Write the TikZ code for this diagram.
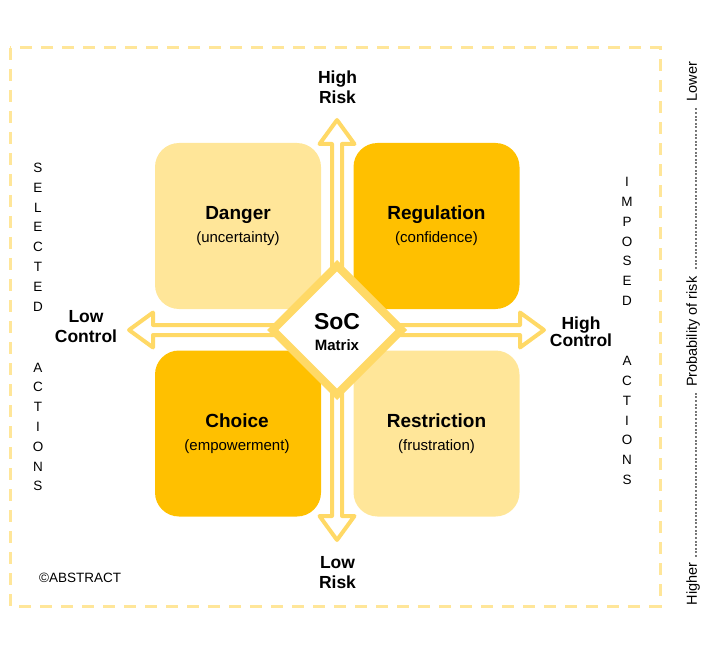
\documentclass[tikz,border=0pt]{standalone}
\usepackage{fontspec}
\setmainfont{Liberation Sans}
\usetikzlibrary{shapes.geometric}
\definecolor{lightY}{HTML}{FFE699}
\definecolor{darkY}{HTML}{FFC000}
\definecolor{arrowY}{HTML}{FFD966}
\definecolor{frameY}{HTML}{FFE699}
\newcommand\fsz[2]{\fontsize{#1}{#2}\selectfont}
\newcommand\dotlead{\leaders\hbox to 3.6pt{\hss.\hss}\hfill}
\begin{document}
\begin{tikzpicture}[x=1pt,y=-1pt,
  quad/.style={rectangle, rounded corners=24pt, draw=none, minimum width=166pt, minimum height=166pt, inner sep=0pt},
  ttl/.style={anchor=base, inner sep=0pt, font=\fsz{19}{22}\bfseries},
  sub/.style={anchor=base, inner sep=0pt, font=\fsz{15}{18}},
  axlbl/.style={align=center, inner sep=0pt, font=\fsz{17.5}{19.5}\bfseries},
  vert/.style={align=center, inner sep=0pt, font=\fsz{13.5}{19.8}},
  blockarrow/.style={draw=arrowY, line width=4pt, fill=white, line join=round}]
\useasboundingbox (0,0) rectangle (713,666);
% dashed frame
\draw[frameY, line width=3pt, dash pattern=on 12pt off 9pt] (10,48) rectangle (660,606);
% quadrants
\node[quad, fill=lightY] (danger) at (238,226) {};
\node[quad, fill=darkY] (regulation) at (436.5,226) {};
\node[quad, fill=darkY] (choice) at (238,433.5) {};
\node[quad, fill=lightY] (restriction) at (436.5,433.5) {};
% block arrows
\draw[blockarrow] (332,330) -- (332,144) -- (319.5,144) -- (337,120) -- (354.5,144) -- (342,144) -- (342,330) -- cycle;
\draw[blockarrow] (332,330) -- (332,516) -- (319.5,516) -- (337,540) -- (354.5,516) -- (342,516) -- (342,330) -- cycle;
\draw[blockarrow] (337,325) -- (153,325) -- (153,312.5) -- (129,330) -- (153,347.5) -- (153,335) -- (337,335) -- cycle;
\draw[blockarrow] (337,325) -- (520,325) -- (520,312.5) -- (544,330) -- (520,347.5) -- (520,335) -- (337,335) -- cycle;
% centre diamond
\node[diamond, draw=arrowY, fill=white, line width=8pt, line join=miter, minimum width=132pt, minimum height=132pt, inner sep=0pt] (soc) at (337,330) {};
\node[anchor=base, inner sep=0pt, font=\fsz{23}{26}\bfseries] (soct) at (337,329) {SoC};
\node[anchor=base, inner sep=0pt, font=\fsz{15}{18}\bfseries] (matrix) at (337,350) {Matrix};
% quadrant texts
\node[ttl] (dangert) at (238,219) {Danger};
\node[sub] (dangers) at (238,243) {(uncertainty)};
\node[ttl] (regt) at (436.5,219) {Regulation};
\node[sub] (regs) at (436.5,243) {(confidence)};
\node[ttl] (choicet) at (237,427) {Choice};
\node[sub] (choices) at (237,450.5) {(empowerment)};
\node[ttl] (restt) at (436.5,427) {Restriction};
\node[sub] (rests) at (436.5,450.5) {(frustration)};
% axis labels
\node[axlbl] (highrisk) at (337.5,87.3) {High\\Risk};
\node[axlbl] (lowrisk) at (337.5,572.5) {Low\\Risk};
\node[axlbl] (lowctrl) at (86,326.5) {Low\\Control};
\node[axlbl, font=\fsz{17.5}{17.5}\bfseries] (highctrl) at (581,331.5) {High\\Control};
% side words
\node[vert] (selected) at (38,237) {S\\E\\L\\E\\C\\T\\E\\D};
\node[vert] (actionsl) at (38,427) {A\\C\\T\\I\\O\\N\\S};
\node[vert] (imposed) at (627,241.5) {I\\M\\P\\O\\S\\E\\D};
\node[vert] (actionsr) at (627,420.5) {A\\C\\T\\I\\O\\N\\S};
% copyright
\node[anchor=west, inner sep=0pt, font=\fsz{13.5}{16}] (copy) at (39,577.5) {©ABSTRACT};
% probability scale
\node[rotate=90, inner sep=0pt, font=\fsz{14.5}{17}] (prob) at (693,333.5)
  {\makebox[543pt][s]{Higher \dotlead{} Probability of risk \dotlead{} Lower}};
\end{tikzpicture}
\end{document}
